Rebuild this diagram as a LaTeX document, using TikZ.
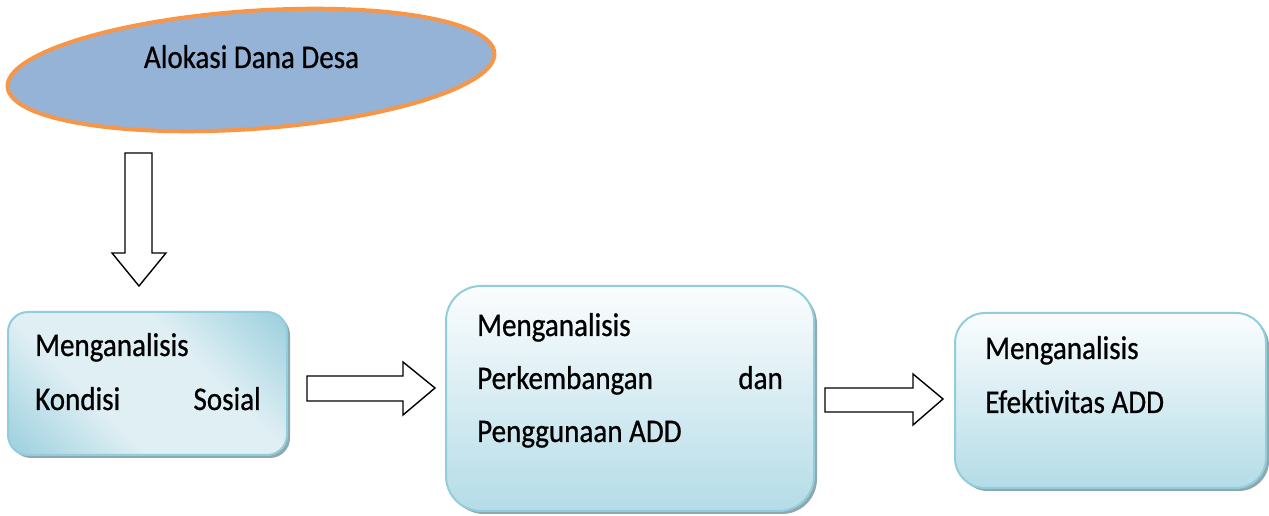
\documentclass[tikz,border=0pt]{standalone}
\usepackage{fontspec}
\setmainfont{Carlito}[FakeStretch=0.88, FakeBold=0.7, Ligatures={NoCommon,NoRare}]
\usetikzlibrary{shapes.geometric}
\definecolor{ellfill}{HTML}{95B3D7}
\definecolor{ellline}{HTML}{F79646}
\definecolor{boxline}{HTML}{92CDDC}
\definecolor{boxdark}{HTML}{B4DCE7}
\definecolor{boxlight}{HTML}{FBFDFE}
\definecolor{diagdark}{HTML}{98CEDD}
\definecolor{diaglight}{HTML}{DFEFF4}
\definecolor{shadowc}{HTML}{8FA7AF}
\pgfdeclarehorizontalshading{diagshade}{100bp}{color(0bp)=(diagdark); color(14bp)=(diagdark); color(38bp)=(diaglight); color(62bp)=(diaglight); color(86bp)=(diagdark); color(100bp)=(diagdark)}
\tikzset{
  lbl/.style={inner sep=0pt, font=\fontsize{33}{35}\selectfont, text=black},
  blockarrow/.style={draw=black, fill=white, line width=1.4pt, line join=miter},
  boxline/.style={draw=boxline, line width=2pt},
}
\begin{document}
\begin{tikzpicture}[x=1pt,y=1pt]
\useasboundingbox (0,0) rectangle (1269,516);
% ellipse
\node[ellipse, draw=ellline, fill=ellfill, line width=4pt, minimum width=488, minimum height=118, inner sep=0pt, rotate=4] (add) at (251,446) {};
\node[lbl, anchor=base] (addt) at (251.5,448) {Alokasi Dana Desa};
% down arrow
\draw[blockarrow] (125,363) -- (152,363) -- (152,263) -- (166,263) -- (139,230) -- (112,263) -- (125,263) -- cycle;
% box 1
\fill[shadowc, rounded corners=20] (11,58) rectangle (290,201);
\shade[rounded corners=20, shading=diagshade, shading angle=45] (8,61) rectangle (287,204);
\draw[boxline, rounded corners=20] (8,61) rectangle (287,204);
\node[lbl, anchor=base west] (t11) at (35,160) {Menganalisis};
\node[lbl, anchor=base west] (t12) at (35,106) {Kondisi};
\node[lbl, anchor=base east] (t13) at (261,106) {Sosial};
% arrow 1
\draw[blockarrow] (307,140) -- (403,140) -- (403,154) -- (435,128) -- (403,101) -- (403,115) -- (307,115) -- cycle;
% box 2
\fill[shadowc, rounded corners=35] (449,2) rectangle (817,227);
\shade[rounded corners=35, top color=boxlight, bottom color=boxdark] (446,5) rectangle (814,230);
\draw[boxline, rounded corners=35] (446,5) rectangle (814,230);
\node[lbl, anchor=base west] (t21) at (477,180) {Menganalisis};
\node[lbl, anchor=base west] (t22) at (477,127) {Perkembangan};
\node[lbl, anchor=base east] (t23) at (783,127) {dan};
\node[lbl, anchor=base west] (t24) at (477,74) {Penggunaan ADD};
% arrow 2
\draw[blockarrow] (825,128) -- (913,128) -- (913,142) -- (943,117) -- (913,91) -- (913,104) -- (825,104) -- cycle;
% box 3
\fill[shadowc, rounded corners=30] (958,25) rectangle (1269,200);
\shade[rounded corners=30, top color=boxlight, bottom color=boxdark] (955,28) rectangle (1266,203);
\draw[boxline, rounded corners=30] (955,28) rectangle (1266,203);
\node[lbl, anchor=base west] (t31) at (985,157) {Menganalisis};
\node[lbl, anchor=base west] (t32) at (985,103) {Efektivitas ADD};
\end{tikzpicture}
\end{document}
